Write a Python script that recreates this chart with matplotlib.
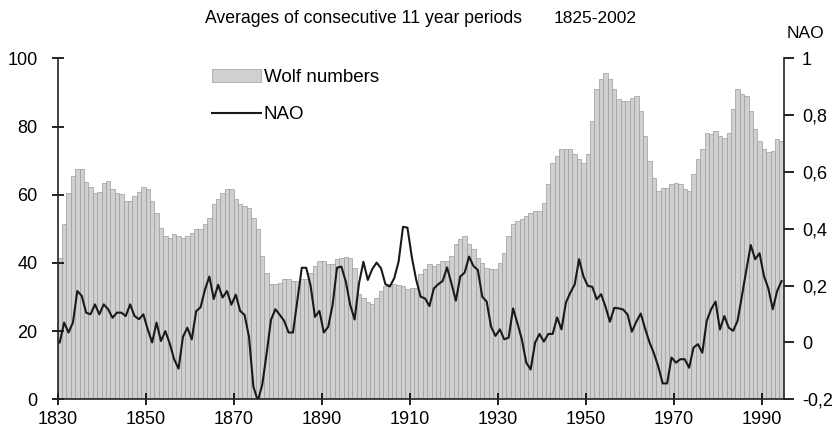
import matplotlib
matplotlib.use('Agg')
import matplotlib.pyplot as plt
import numpy as np

plt.rcParams['font.family'] = ['Liberation Sans', 'DejaVu Sans']

# data: 11-year running averages, one value per central year
years = np.arange(1830, 1995)

wolf = [
    41.5, 51.3, 60.6, 65.5, 67.4, 67.4, 63.8, 62.2, 60.6, 60.9,  # 1830s
    63.5, 64.0, 61.6, 60.6, 60.1, 58.2, 58.2, 59.6, 60.9, 62.2,  # 1840s
    61.6, 58.2, 54.5, 50.3, 47.9, 47.4, 48.4, 47.9, 47.4, 47.9,  # 1850s
    48.9, 49.9, 49.9, 51.3, 53.3, 57.2, 58.7, 60.6, 61.6, 61.6,  # 1860s
    58.7, 57.2, 56.7, 56.2, 53.3, 49.9, 42.0, 37.1, 33.7, 33.7,  # 1870s
    34.2, 35.2, 35.2, 34.7, 34.7, 35.2, 35.2, 37.1, 39.1, 40.6,  # 1880s
    40.6, 39.6, 39.6, 41.1, 41.5, 41.8, 41.5, 38.6, 31.0, 29.8,  # 1890s
    28.6, 27.9, 29.8, 31.8, 33.2, 33.7, 33.7, 33.5, 33.2, 32.2,  # 1900s
    32.7, 32.5, 36.6, 38.1, 39.6, 39.1, 39.6, 40.6, 40.6, 42.0,  # 1910s
    45.5, 46.9, 47.9, 45.5, 44.0, 41.5, 40.1, 38.6, 38.1, 38.1,  # 1920s
    40.1, 43.0, 47.9, 51.3, 52.3, 52.8, 53.8, 54.7, 55.2, 55.2,  # 1930s
    57.7, 63.0, 69.4, 71.4, 73.5, 73.5, 73.3, 71.8, 70.4, 69.4,  # 1940s
    71.8, 81.6, 90.9, 93.8, 95.8, 93.8, 90.9, 88.0, 87.5, 87.5,  # 1950s
    88.5, 89.0, 84.5, 77.2, 69.9, 65.0, 61.1, 62.0, 62.0, 63.0,  # 1960s
    63.5, 63.0, 61.6, 61.1, 66.0, 70.4, 73.3, 78.2, 77.7, 78.7,  # 1970s
    77.2, 76.7, 78.2, 85.0, 90.9, 89.5, 89.0, 84.5, 79.2, 75.7,  # 1980s
    73.3, 72.4, 72.8, 76.2, 75.7,                                # 1990s
]

nao = [
    0.000, 0.070, 0.035, 0.070, 0.181, 0.164, 0.105, 0.099, 0.134, 0.099,
    0.134, 0.117, 0.087, 0.105, 0.105, 0.093, 0.134, 0.093, 0.082, 0.099,
    0.046, 0.000, 0.070, 0.005, 0.040, -0.004, -0.059, -0.092, 0.020, 0.052,
    0.011, 0.110, 0.124, 0.186, 0.232, 0.153, 0.203, 0.158, 0.181, 0.133,
    0.168, 0.111, 0.097, 0.020, -0.155, -0.205, -0.150, -0.040, 0.080, 0.117,
    0.097, 0.076, 0.035, 0.035, 0.150, 0.263, 0.263, 0.200, 0.090, 0.111,
    0.035, 0.055, 0.132, 0.263, 0.267, 0.214, 0.132, 0.081, 0.208, 0.284,
    0.220, 0.258, 0.281, 0.261, 0.205, 0.197, 0.226, 0.285, 0.407, 0.404,
    0.300, 0.220, 0.161, 0.155, 0.128, 0.190, 0.205, 0.216, 0.264, 0.208,
    0.147, 0.232, 0.246, 0.302, 0.269, 0.255, 0.161, 0.144, 0.056, 0.023,
    0.046, 0.011, 0.017, 0.120, 0.067, 0.011, -0.071, -0.095, -0.001, 0.030,
    0.003, 0.030, 0.030, 0.088, 0.046, 0.140, 0.175, 0.204, 0.293, 0.232,
    0.199, 0.196, 0.152, 0.170, 0.126, 0.073, 0.122, 0.120, 0.116, 0.099,
    0.038, 0.073, 0.102, 0.049, 0.000, -0.038, -0.085, -0.144, -0.144, -0.053,
    -0.071, -0.059, -0.059, -0.089, -0.018, -0.006, -0.036, 0.076, 0.117, 0.144,
    0.046, 0.093, 0.052, 0.041, 0.076, 0.164, 0.255, 0.343, 0.293, 0.314,
    0.234, 0.190, 0.117, 0.181, 0.216,
]

left_ticks = [0, 20, 40, 60, 80, 100]
right_ticks = [-0.2, 0, 0.2, 0.4, 0.6, 0.8, 1.0]
x_ticks = list(range(1830, 1991, 20))

fig = plt.figure(figsize=(8.36, 4.42), dpi=100)
ax = fig.add_axes([0.0688, 0.0966, 0.8687, 0.7715])

bars = ax.bar(years, wolf, width=1.0, align='edge', color='#d0d0d0',
              edgecolor='#9c9c9c', linewidth=0.5, label='Wolf numbers')
ax.set_xlim(1830, 1995)
ax.set_ylim(0, 100)
ax.set_yticks(left_ticks)
ax.set_xticks(x_ticks)
ax.tick_params(axis='y', direction='inout', length=9, width=1.2, labelsize=13, pad=10)
ax.tick_params(axis='x', direction='inout', length=9, width=1.2, labelsize=13, pad=4)
ax.spines['top'].set_visible(False)
ax.spines['right'].set_visible(False)
for s in ['left', 'bottom']:
    ax.spines[s].set_linewidth(1.2)
    ax.spines[s].set_color('#222222')

ax2 = ax.twinx()
line, = ax2.plot(years + 0.5, nao, color='#1a1a1a', linewidth=1.5, label='NAO')
ax2.set_ylim(-0.2, 1.0)
ax2.set_yticks(right_ticks)
ax2.set_yticklabels([('%g' % t).replace('.', ',') for t in right_ticks])
ax2.tick_params(axis='y', direction='out', length=7, width=1.2, labelsize=13, pad=6)
ax2.spines['top'].set_visible(False)
ax2.spines['left'].set_visible(False)
ax2.spines['bottom'].set_visible(False)
ax2.spines['right'].set_linewidth(1.2)
ax2.spines['right'].set_color('#222222')

ax2.legend([bars, line], ['Wolf numbers', 'NAO'], loc='upper left',
           bbox_to_anchor=(0.254, 0.845), bbox_transform=fig.transFigure,
           frameon=False, fontsize=13.5, handlelength=2.6, handletextpad=0.15,
           labelspacing=1.1, borderaxespad=0, borderpad=0)

fig.text(0.435, 0.958, 'Averages of consecutive 11 year periods', ha='center', va='center',
         fontsize=12.7)
fig.text(0.712, 0.958, '1825-2002', ha='center', va='center', fontsize=12.5)
fig.text(0.963, 0.925, 'NAO', ha='center', va='center', fontsize=12.5)

fig.savefig('out.png', dpi=100)
